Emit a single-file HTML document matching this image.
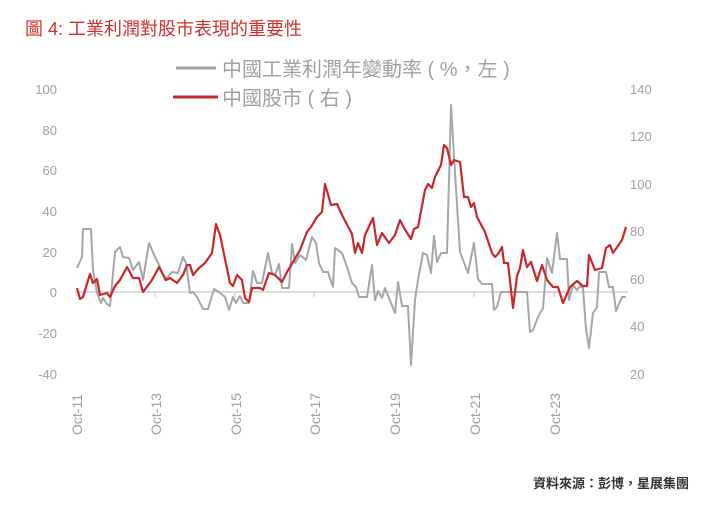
<!DOCTYPE html>
<html><head><meta charset="utf-8"><style>
body{margin:0;background:#fff;width:721px;height:512px;overflow:hidden}
svg{display:block}
text{font-family:"Liberation Sans","Noto Sans CJK TC",sans-serif}
</style></head><body>
<svg width="721" height="512" viewBox="0 0 721 512">
<text x="25" y="35" font-size="18" fill="#d0312d">圖 4:  工業利潤對股市表現的重要性</text>
<line x1="176" y1="68" x2="216" y2="68" stroke="#a6a6a6" stroke-width="3"/>
<text x="222" y="76" font-size="20" fill="#a0a0a0">中國工業利潤年變動率 ( %，左 )</text>
<line x1="173" y1="97" x2="218" y2="97" stroke="#c8282b" stroke-width="3"/>
<text x="222" y="105" font-size="20" fill="#a0a0a0">中國股市 ( 右 )</text>
<g font-size="13" fill="#a0a0a0" text-anchor="end">
<text x="57" y="94">100</text><text x="57" y="135">80</text><text x="57" y="175">60</text><text x="57" y="216">40</text><text x="57" y="257">20</text><text x="57" y="297">0</text><text x="57" y="338">-20</text><text x="57" y="379">-40</text>
</g>
<g font-size="13" fill="#a0a0a0">
<text x="630" y="94">140</text><text x="630" y="141">120</text><text x="630" y="189">100</text><text x="630" y="236">80</text><text x="630" y="284">60</text><text x="630" y="331">40</text><text x="630" y="379">20</text>
</g>
<line x1="75" y1="292" x2="628" y2="292" stroke="#d0d0d0" stroke-width="1.5"/>
<g stroke="#d0d0d0" stroke-width="1.2">
<line x1="77" y1="292" x2="77" y2="297"/><line x1="155" y1="292" x2="155" y2="297"/><line x1="235" y1="292" x2="235" y2="297"/><line x1="314" y1="292" x2="314" y2="297"/><line x1="394" y1="292" x2="394" y2="297"/><line x1="474" y1="292" x2="474" y2="297"/><line x1="554" y1="292" x2="554" y2="297"/>
</g>
<g font-size="14" fill="#a0a0a0">
<text transform="translate(82,435) rotate(-90)">Oct-11</text>
<text transform="translate(161,435) rotate(-90)">Oct-13</text>
<text transform="translate(241,435) rotate(-90)">Oct-15</text>
<text transform="translate(320,435) rotate(-90)">Oct-17</text>
<text transform="translate(400,435) rotate(-90)">Oct-19</text>
<text transform="translate(480,435) rotate(-90)">Oct-21</text>
<text transform="translate(560,435) rotate(-90)">Oct-23</text>
</g>
<polyline fill="none" stroke="#a6a6a6" stroke-width="2" stroke-linejoin="round" points="77,268 82,257 83,229 91,229 93,270 97,293 101,303 103,298 107,304 110,306 115,252 120,247 123,257 129,258 133,270 139,262 143,280 149,243 155,257 160,267 165,280 172,272 178,273 183,257 186,263 190,293 193,292 197,297 203,309 208,309 214,289 219,292 225,297 229,310 233,297 236,303 240,296 243,303 249,303 253,271 257,283 262,283 268,253 272,273 275,275 279,264 282,288 289,288 292,244 295,263 300,255 306,260 312,237 316,243 319,263 323,272 328,272 333,287 335,248 342,253 347,267 352,283 356,287 359,297 367,297 372,265 375,300 378,291 382,298 385,288 389,298 395,313 398,282 402,306 408,306 411,365 415,300 418,280 423,253 427,255 431,273 434,236 437,262 441,253 447,253 451,105 455,173 460,252 468,273 474,243 478,279 482,284 492,284 494,310 497,307 501,292 527,292 530,332 533,330 538,317 543,308 547,258 552,273 557,233 560,259 567,259 569,300 573,285 577,290 580,286 583,288 586,329 589,348 593,313 597,307 599,272 606,272 609,287 613,287 616,311 622,297 626,297"/>
<polyline fill="none" stroke="#c8282b" stroke-width="2.2" stroke-linejoin="round" points="77,288 80,299 83,297 90,274 93,283 97,279 100,295 107,293 110,297 115,286 120,280 127,267 133,278 139,278 143,292 152,280 159,267 166,280 170,278 177,283 183,275 187,265 190,265 193,275 199,268 205,263 212,253 216,224 220,235 230,283 233,286 237,275 242,280 245,298 249,302 252,288 260,288 263,290 269,273 275,275 282,282 287,272 293,262 300,250 307,232 311,227 317,217 322,212 325,184 331,205 337,204 342,215 352,234 355,253 358,243 362,253 365,235 373,218 377,245 382,233 389,243 395,235 400,220 404,228 411,239 414,229 418,227 425,190 428,184 432,188 435,177 441,165 444,145 447,148 451,165 454,160 460,162 464,197 468,197 471,207 474,203 477,217 485,232 492,253 495,257 498,254 502,247 504,263 508,263 513,308 517,276 520,268 523,250 527,267 531,262 537,281 542,265 547,280 553,287 558,287 563,303 570,287 577,281 583,286 587,286 589,255 595,270 602,268 606,248 610,245 613,253 622,240 626,227"/>
<text x="689" y="488" font-size="13" fill="#333" font-weight="bold" text-anchor="end">資料來源：彭博，星展集團</text>
</svg>
</body></html>
